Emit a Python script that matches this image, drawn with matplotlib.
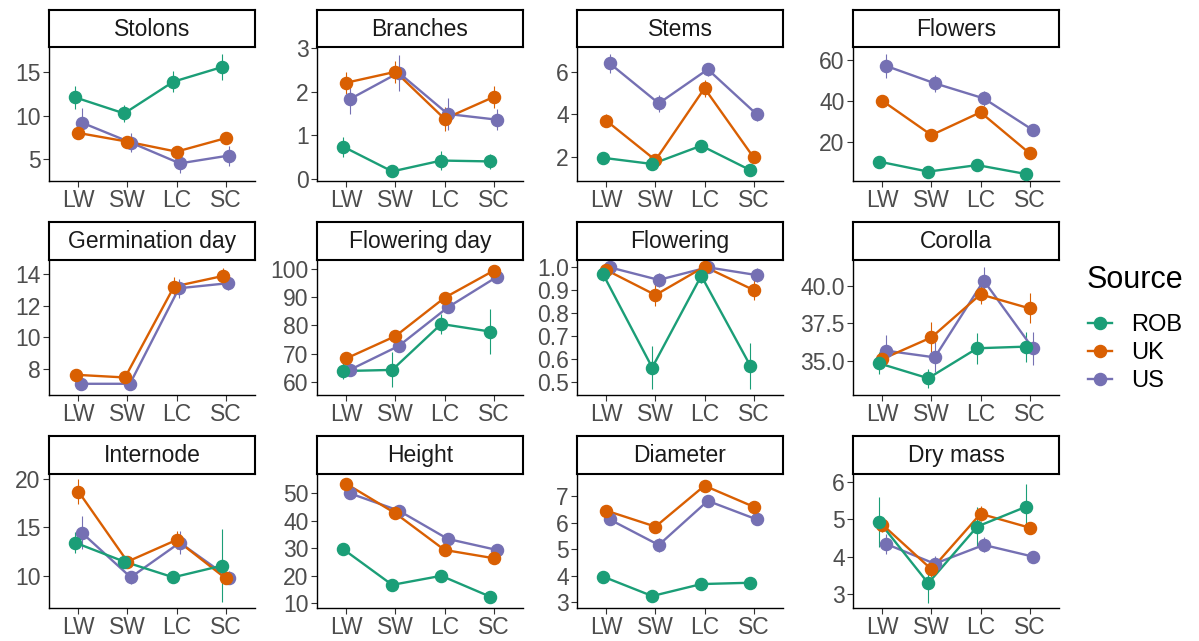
import numpy as np
import matplotlib.pyplot as plt
from matplotlib.lines import Line2D

plt.rcParams['font.family'] = ['Liberation Sans', 'DejaVu Sans']

nan = np.nan
habitats = ["LW", "SW", "LC", "SC"]
sources = ["ROB", "UK", "US"]
colors = ["#1B9E77", "#D95F02", "#7570B3"]

# rows: ROB, UK, US  /  columns: LW, SW, LC, SC
stolons_mean = [[12.1, 10.25, 13.9, 15.6], [8.0, 7.0, 5.85, 7.4], [9.2, 6.9, 4.5, 5.4]]
stolons_se = [[1.3, 1.0, 1.2, 1.5], [0.6, 0.5, 0.4, 0.4], [1.7, 1.1, 1.15, 1.15]]

branches_mean = [[0.74, 0.17, 0.42, 0.40], [2.21, 2.46, 1.38, 1.88], [1.83, 2.44, 1.49, 1.36]]
branches_se = [[0.23, 0.07, 0.21, 0.18], [0.25, 0.25, 0.27, 0.25], [0.35, 0.41, 0.36, 0.24]]

stems_mean = [[1.95, 1.66, 2.52, 1.37], [3.69, 1.84, 5.22, 1.97], [6.39, 4.51, 6.11, 3.99]]
stems_se = [[0.15, 0.15, 0.15, 0.12], [0.3, 0.2, 0.4, 0.2], [0.45, 0.4, 0.3, 0.3]]

flowers_mean = [[10.2, 5.3, 8.5, 4.1], [40.0, 23.2, 34.4, 14.3], [57.2, 48.6, 41.2, 25.7]]
flowers_se = [[1.0, 1.0, 1.0, 0.8], [2.5, 1.5, 2.0, 1.5], [5.9, 4.3, 3.5, 1.5]]

germination_mean = [[nan, nan, nan, nan], [7.63, 7.46, 13.22, 13.89], [7.06, 7.06, 13.11, 13.43]]
germination_se = [[nan, nan, nan, nan], [0.1, 0.1, 0.6, 0.5], [0.1, 0.1, 0.6, 0.4]]

flowering_day_mean = [[63.8, 64.2, 80.5, 77.8], [68.3, 76.2, 89.8, 99.4], [64.2, 72.7, 86.4, 97.2]]
flowering_day_se = [[3.0, 6.2, 3.5, 7.9], [1.0, 1.0, 1.0, 0.8], [1.0, 1.0, 1.0, 0.8]]

flowering_mean = [[0.969, 0.562, 0.963, 0.570], [0.988, 0.879, 1.003, 0.901], [1.0, 0.945, 1.0, 0.966]]
flowering_se = [[0.03, 0.095, 0.03, 0.10], [0.02, 0.047, 0.01, 0.044], [0.005, 0.03, 0.005, 0.03]]

corolla_mean = [[34.82, 33.82, 35.83, 35.94], [35.11, 36.56, 39.44, 38.5], [35.67, 35.22, 40.36, 35.83]]
corolla_se = [[0.73, 0.65, 1.04, 1.0], [0.5, 1.0, 0.67, 1.0], [1.04, 1.0, 0.9, 1.1]]

internode_mean = [[13.41, 11.45, 9.83, 11.04], [18.69, 11.45, 13.69, 9.73], [14.45, 9.83, 13.41, 9.8]]
internode_se = [[1.1, 0.6, 0.6, 3.75], [1.3, 0.6, 0.9, 0.6], [1.7, 0.7, 1.2, 0.7]]

height_mean = [[29.7, 16.7, 20.0, 12.4], [53.4, 42.7, 29.4, 26.4], [50.0, 43.7, 33.4, 29.4]]
height_se = [[0.8, 0.8, 0.9, 0.7], [1.0, 1.5, 1.0, 1.0], [1.0, 1.0, 1.0, 0.8]]

diameter_mean = [[3.97, 3.24, 3.69, 3.74], [6.45, 5.85, 7.39, 6.6], [6.12, 5.16, 6.82, 6.12]]
diameter_se = [[0.1, 0.08, 0.1, 0.12], [0.12, 0.15, 0.1, 0.12], [0.15, 0.25, 0.15, 0.12]]

drymass_mean = [[4.93, 3.29, 4.8, 5.33], [4.85, 3.66, 5.14, 4.77], [4.34, 3.81, 4.31, 4.0]]
drymass_se = [[0.67, 0.52, 0.53, 0.6], [0.2, 0.2, 0.2, 0.15], [0.27, 0.2, 0.2, 0.1]]

traits = ["Stolons", "Branches", "Stems", "Flowers",
          "Germination day", "Flowering day", "Flowering", "Corolla",
          "Internode", "Height", "Diameter", "Dry mass"]
means = [stolons_mean, branches_mean, stems_mean, flowers_mean,
         germination_mean, flowering_day_mean, flowering_mean, corolla_mean,
         internode_mean, height_mean, diameter_mean, drymass_mean]
ses = [stolons_se, branches_se, stems_se, flowers_se,
       germination_se, flowering_day_se, flowering_se, corolla_se,
       internode_se, height_se, diameter_se, drymass_se]

yticks = [[5, 10, 15], [0, 1, 2, 3], [2, 4, 6], [20, 40, 60],
          [8, 10, 12, 14], [60, 70, 80, 90, 100], [0.5, 0.6, 0.7, 0.8, 0.9, 1.0], [35.0, 37.5, 40.0],
          [10, 15, 20], [10, 20, 30, 40, 50], [3, 4, 5, 6, 7], [3, 4, 5, 6]]
ylims = [(2.47, 17.9), (-0.05, 3.03), (0.86, 7.16), (0.7, 66.4),
         (6.35, 14.9), (55.3, 103.2), (0.442, 1.032), (32.7, 41.74),
         (6.66, 20.5), (8.3, 57.0), (2.79, 7.83), (2.63, 6.2)]
one_decimal = {"Flowering", "Corolla"}

W, H = 1199, 641
fig = plt.figure(figsize=(W / 100, H / 100), dpi=100)

col_left = [49, 317, 577, 853]
panel_w = 206
strip_top = [10, 222, 436]
panel_top = [47, 260, 474]
panel_bot = [181, 395, 608]


def px(x0, y0, w, h):
    return [x0 / W, 1 - (y0 + h) / H, w / W, h / H]


x = np.arange(1, 5)
for i, name in enumerate(traits):
    r, c = divmod(i, 4)
    ax = fig.add_axes(px(col_left[c], panel_top[r], panel_w, panel_bot[r] - panel_top[r]))
    m = np.array(means[i], dtype=float)
    s = np.array(ses[i], dtype=float)
    present = [k for k in range(3) if not np.all(np.isnan(m[k]))]
    n = len(present)
    for j, k in enumerate(present):
        xx = x + (j - (n - 1) / 2) * 0.2 / n
        z = (2 - k) * 0.1
        ax.vlines(xx, m[k] - s[k], m[k] + s[k], color=colors[k], lw=0.8, zorder=2 + z)
        ax.plot(xx, m[k], color=colors[k], lw=1.7, zorder=3 + z)
        ax.plot(xx, m[k], "o", color=colors[k], ms=8.7, zorder=4 + z)

    ax.set_xlim(0.4, 4.6)
    ax.set_ylim(*ylims[i])
    ax.set_xticks(x)
    ax.set_xticklabels(habitats)
    ax.set_yticks(yticks[i])
    if name in one_decimal:
        ax.set_yticklabels([f"{v:.1f}" for v in yticks[i]])
    for sp in ["top", "right"]:
        ax.spines[sp].set_visible(False)
    for sp in ["left", "bottom"]:
        ax.spines[sp].set_linewidth(1.0)
        ax.spines[sp].set_color("black")
    ax.tick_params(length=4, width=0.8, color="#333333", labelsize=16.5,
                   labelcolor="#4D4D4D", pad=2)

    sax = fig.add_axes(px(col_left[c], strip_top[r], panel_w, panel_top[r] - strip_top[r]))
    sax.set_xticks([])
    sax.set_yticks([])
    for sp in sax.spines.values():
        sp.set_linewidth(1.5)
        sp.set_color("black")
    sax.text(0.5, 0.48, name, ha="center", va="center", fontsize=16.5, color="#1A1A1A",
             transform=sax.transAxes)

handles = [Line2D([0], [0], color=col, marker="o", ms=8.7, lw=1.7) for col in colors]
fig.legend(handles, sources, loc="center left",
           bbox_to_anchor=(1067 / W, 1 - 353 / H), frameon=False, fontsize=17,
           handlelength=1.0, handletextpad=0.8, labelspacing=0.26)
fig.text(1087 / W, 1 - 280 / H, "Source", ha="left", va="center", fontsize=22,
         color="black")

fig.savefig("out.png", dpi=100)
